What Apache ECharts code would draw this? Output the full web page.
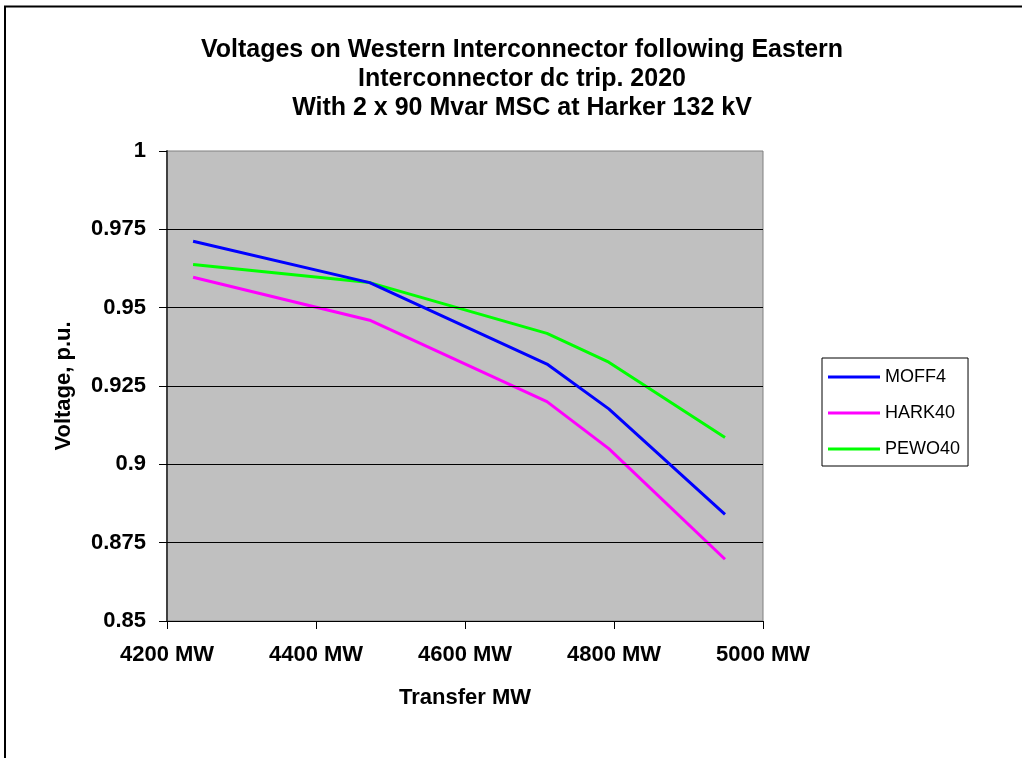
<!DOCTYPE html>
<html>
<head>
<meta charset="utf-8">
<script src="https://cdn.jsdelivr.net/npm/echarts@6/dist/echarts.min.js"></script>
<style>
html,body{margin:0;padding:0;background:#fff;}
#chart{width:1022px;height:758px;}
</style>
</head>
<body>
<div id="chart"></div>
<script>
const transferMW = [4235, 4472, 4710, 4793, 4949];
const moff4 = [0.9712, 0.958, 0.932, 0.9177, 0.8840];
const hark40 = [0.9597, 0.946, 0.920, 0.905, 0.8697];
const pewo40 = [0.9638, 0.958, 0.9418, 0.9326, 0.9086];
const seriesNames = ['MOFF4', 'HARK40', 'PEWO40'];
const seriesColors = ['#0000FF', '#FF00FF', '#00FF00'];
const gridLineValues = [0.975, 0.95, 0.925, 0.9, 0.875];
const titleLines = ['Voltages on Western Interconnector following Eastern', 'Interconnector dc trip. 2020', 'With 2 x 90 Mvar MSC at Harker 132 kV'];

const allValues = [moff4, hark40, pewo40];
const FONT = 'Liberation Sans, Arial, sans-serif';
const chart = echarts.init(document.getElementById('chart'), null, {renderer: 'canvas'});

const series = seriesNames.map((name, i) => ({
  name: name,
  type: 'line',
  data: transferMW.map((x, j) => [x, allValues[i][j]]),
  showSymbol: false,
  symbol: 'none',
  lineStyle: {color: seriesColors[i], width: 3},
  itemStyle: {color: seriesColors[i]},
  z: 5 - i
}));
series.push({
  name: 'grid',
  type: 'line',
  data: [],
  silent: true,
  z: 1,
  markLine: {
    silent: true,
    precision: 4,
    symbol: ['none', 'none'],
    label: {show: false},
    lineStyle: {color: '#000', width: 1, type: 'solid'},
    emphasis: {disabled: true},
    data: gridLineValues.map(v => ({yAxis: v}))
  }
});

chart.setOption({
  animation: false,
  backgroundColor: '#ffffff',
  title: {
    text: titleLines.join('\n'),
    left: 517,
    top: 31,
    textAlign: 'center',
    textStyle: {fontFamily: FONT, fontWeight: 'bold', fontSize: 25, lineHeight: 29, color: '#000'}
  },
  legend: {
    orient: 'vertical',
    left: 822,
    top: 358,
    padding: [9, 8, 7, 6],
    itemGap: 16,
    itemWidth: 52,
    itemHeight: 3,
    icon: 'rect',
    borderColor: '#000',
    borderWidth: 1,
    backgroundColor: '#fff',
    data: seriesNames,
    textStyle: {fontFamily: FONT, fontSize: 18, lineHeight: 20, color: '#000'}
  },
  grid: {
    left: 167, right: 259, top: 151, bottom: 137,
    show: true, backgroundColor: '#C0C0C0', borderColor: '#808080', borderWidth: 1
  },
  xAxis: {
    type: 'value', min: 4200, max: 5000, interval: 200,
    name: 'Transfer MW', nameLocation: 'middle', nameGap: 66,
    nameTextStyle: {fontFamily: FONT, fontWeight: 'bold', fontSize: 22, color: '#000'},
    axisLine: {show: true, onZero: false, lineStyle: {color: '#000', width: 1}},
    axisTick: {show: true, length: 8, lineStyle: {color: '#000'}},
    axisLabel: {margin: 23, fontFamily: FONT, fontWeight: 'bold', fontSize: 22, color: '#000', formatter: v => v + ' MW'},
    splitLine: {show: false}
  },
  yAxis: {
    type: 'value', min: 0.85, max: 1, interval: 0.025,
    name: 'Voltage, p.u.', nameLocation: 'middle', nameGap: 92, nameRotate: 90,
    nameTextStyle: {fontFamily: FONT, fontWeight: 'bold', fontSize: 22, color: '#000'},
    axisLine: {show: true, onZero: false, lineStyle: {color: '#404040', width: 2}},
    axisTick: {show: true, length: 8, inside: false, lineStyle: {color: '#000'}},
    axisLabel: {margin: 21, fontFamily: FONT, fontWeight: 'bold', fontSize: 22, color: '#000', formatter: v => String(+v.toFixed(3))},
    splitLine: {show: false}
  },
  graphic: [{
    type: 'rect', z: 100, silent: true,
    shape: {x: 5, y: 6.5, width: 1100, height: 900},
    style: {fill: 'none', stroke: '#000', lineWidth: 2}
  }],
  series: series
});
</script>
</body>
</html>
